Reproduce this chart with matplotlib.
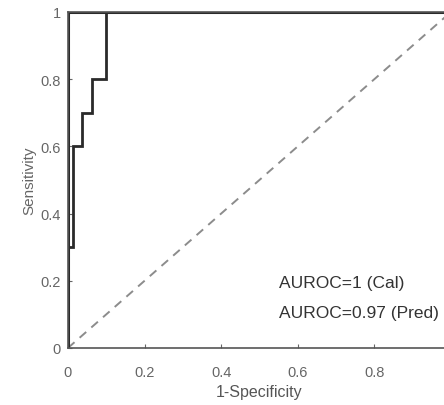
import numpy as np
import matplotlib
matplotlib.use("Agg")
import matplotlib.pyplot as plt

plt.rcParams["font.family"] = ["Liberation Sans", "DejaVu Sans"]

# ROC points, calibration set and prediction set
fpr_cal = [0.0, 0.0, 1.0]
tpr_cal = [0.0, 1.0, 1.0]
fpr_pred = [0.0, 0.0, 0.0125, 0.0125, 0.0375, 0.0375, 0.0625, 0.0625, 0.1, 0.1, 1.0]
tpr_pred = [0.0, 0.3, 0.3, 0.6, 0.6, 0.7, 0.7, 0.8, 0.8, 1.0, 1.0]
auroc_cal = "1"
auroc_pred = "0.97"
ticks = [0, 0.2, 0.4, 0.6, 0.8, 1]
xtick_labels = ["0", "0.2", "0.4", "0.6", "0.8", ""]
ytick_labels = ["0", "0.2", "0.4", "0.6", "0.8", "1"]

fig = plt.figure(figsize=(4.44, 4.06), dpi=100)
ax = fig.add_axes([0.153, 0.1404, 0.8626, 0.8276])

ax.plot([0, 1], [0, 1], "--", color="#8c8c8c", lw=1.4, dashes=(4.5, 3.5))
ax.plot(fpr_cal, tpr_cal, color="#2a2a2a", lw=2.2, solid_joinstyle="miter")
ax.plot(fpr_pred, tpr_pred, color="#2a2a2a", lw=2.0, solid_joinstyle="miter")

ax.set_xlim(0, 1)
ax.set_ylim(0, 1)
ax.set_xticks(ticks)
ax.set_xticklabels(xtick_labels)
ax.set_yticks(ticks)
ax.set_yticklabels(ytick_labels)
ax.tick_params(direction="in", length=3, width=0.8, colors="#666666",
               labelsize=10.5, top=False, right=False)
ax.tick_params(axis="x", pad=12)
ax.tick_params(axis="y", pad=5)
for side in ax.spines:
    ax.spines[side].set_color("#555555")
    ax.spines[side].set_linewidth(1.2)

ax.set_xlabel("1-Specificity", fontsize=11.5, color="#555555", labelpad=4)
ax.set_ylabel("Sensitivity", fontsize=11, color="#666666", labelpad=3)

ax.text(0.552, 0.196, "AUROC=%s (Cal)" % auroc_cal, fontsize=12.5, color="#333333",
        va="center", ha="left")
ax.text(0.552, 0.107, "AUROC=%s (Pred)" % auroc_pred, fontsize=12.5, color="#333333",
        va="center", ha="left")

fig.savefig("out.png", dpi=100)
